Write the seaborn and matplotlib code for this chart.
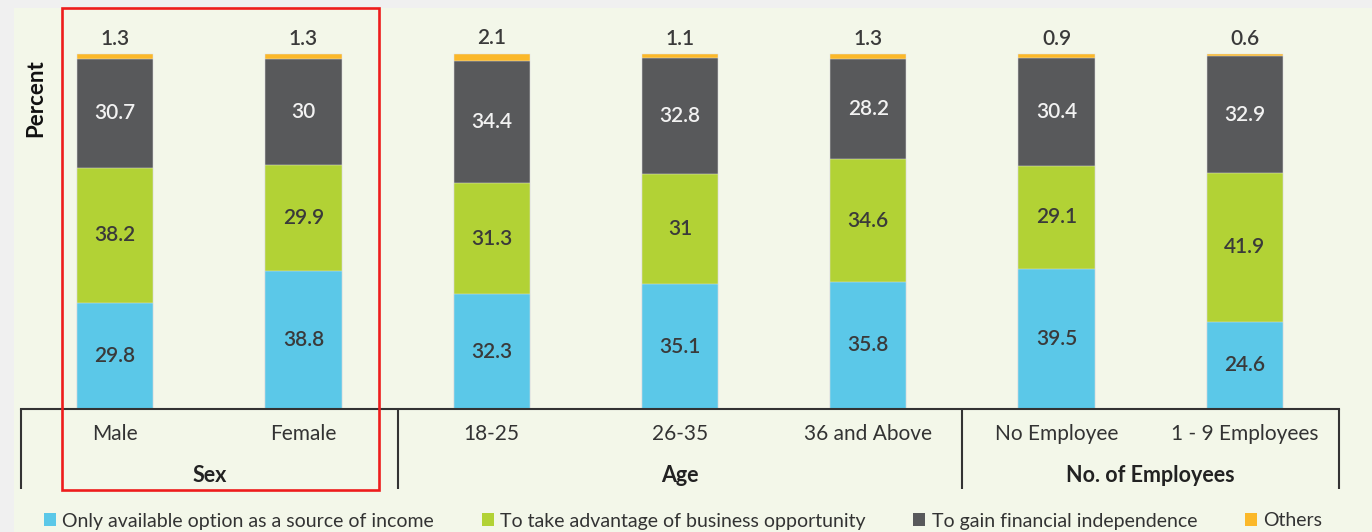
import matplotlib
matplotlib.use("Agg")
import matplotlib.pyplot as plt
from matplotlib.patches import Rectangle, Patch
import numpy as np
import pandas as pd
import seaborn as sns

# ---------------- data ----------------
categories = ["Male", "Female", "18-25", "26-35", "36 and Above", "No Employee", "1 - 9 Employees"]
groups = ["Sex", "Age", "No. of Employees"]
group_sizes = [2, 3, 2]
series_names = [
    "Only available option as a source of income",
    "To take advantage of business opportunity",
    "To gain financial independence",
    "Others",
]
only_option = [29.8, 38.8, 32.3, 35.1, 35.8, 39.5, 24.6]
business_opp = [38.2, 29.9, 31.3, 31.0, 34.6, 29.1, 41.9]
fin_indep = [30.7, 30.0, 34.4, 32.8, 28.2, 30.4, 32.9]
others = [1.3, 1.3, 2.1, 1.1, 1.3, 0.9, 0.6]

# ---------------- style ----------------
colors = ["#5bc8e8", "#b2d235", "#58595b", "#fbb829"]
label_colors = ["#3a3a3a", "#3a3a3a", "#f2f2f2", "#3a3a3a"]
outer_bg = "#f0f0f0"
chart_bg = "#f3f7e9"
line_col = "#333333"

sns.set_theme(style="white")
plt.rcParams["font.family"] = ["Lato", "DejaVu Sans"]

W, H = 1372, 532
fig = plt.figure(figsize=(W / 100, H / 100), dpi=100, facecolor=outer_bg)
fig.patches.append(Rectangle((14 / W, 0), 1 - 14 / W, (H - 8) / H, transform=fig.transFigure,
                             facecolor=chart_bg, edgecolor="none", zorder=-10))
ax = fig.add_axes([21 / W, (H - 409) / H, 1318 / W, 401 / H])
ax.set_facecolor("none")

series = [only_option, business_opp, fin_indep, others]
cum = np.cumsum(np.array(series), axis=0)

# draw cumulative totals from top to bottom so that stacks appear
for i in range(len(series) - 1, -1, -1):
    df = pd.DataFrame({"category": categories, "value": cum[i]})
    sns.barplot(data=df, x="category", y="value", order=categories, color=colors[i],
                saturation=1, width=0.405, edgecolor="#e2e2e2", linewidth=0.35, ax=ax, zorder=2)

ax.set_xlim(-0.5, len(categories) - 0.5)
ax.set_ylim(0, 113)

# value labels
for i, vals in enumerate(series):
    for j, v in enumerate(vals):
        txt = f"{v:g}"
        if i == len(series) - 1:
            ax.annotate(txt, (j, cum[i][j]), xytext=(0, 4), textcoords="offset points",
                        ha="center", va="bottom", fontsize=15, fontweight="semibold",
                        color=label_colors[i], zorder=5)
        else:
            ax.text(j, cum[i][j] - v / 2, txt, ha="center", va="center", fontsize=15,
                    fontweight="semibold", color=label_colors[i], zorder=5)

# axes cosmetics
for s in ["left", "right", "top"]:
    ax.spines[s].set_visible(False)
ax.spines["bottom"].set_color(line_col)
ax.spines["bottom"].set_linewidth(1.5)
ax.set_yticks([])
ax.set_xticks(range(len(categories)))
ax.set_xticklabels(categories, fontsize=15, color="#333333")
ax.tick_params(axis="x", length=0, pad=11)
ax.set_xlabel("")
ax.set_ylabel("Percent", fontsize=16, fontweight="bold", color="#111111")
ax.yaxis.set_label_coords(0.019, 0.776)

# group separators and group labels
trans = ax.get_xaxis_transform()
bounds = np.concatenate([[0], np.cumsum(group_sizes)]) - 0.5
for b in bounds:
    ax.plot([b, b], [0, -0.2], transform=trans, color=line_col, lw=1.5, clip_on=False,
            solid_capstyle="butt")
for g, lo, hi in zip(groups, bounds[:-1], bounds[1:]):
    ax.text((lo + hi) / 2, -0.165, g, transform=trans, ha="center", va="center",
            fontsize=15.5, fontweight="bold", color="#222222")

# red highlight around the first group
ax.add_patch(Rectangle((bounds[0] + 0.22, -0.202), (bounds[1] - 0.1) - (bounds[0] + 0.22), 1.202,
                       transform=trans, facecolor="none", edgecolor="#ee1c1c", lw=1.9,
                       clip_on=False, zorder=6))

# legend
handles = [Patch(facecolor=c, edgecolor="none") for c in colors]
fig.legend(handles, series_names, loc="center left", bbox_to_anchor=(44 / W, (H - 521) / H),
           ncol=4, frameon=False, fontsize=14, handlelength=0.6, handleheight=0.6,
           handletextpad=0.35, columnspacing=2.45, labelcolor="#333333", borderaxespad=0,
           borderpad=0)

fig.savefig("out.png", dpi=100, facecolor=outer_bg)
